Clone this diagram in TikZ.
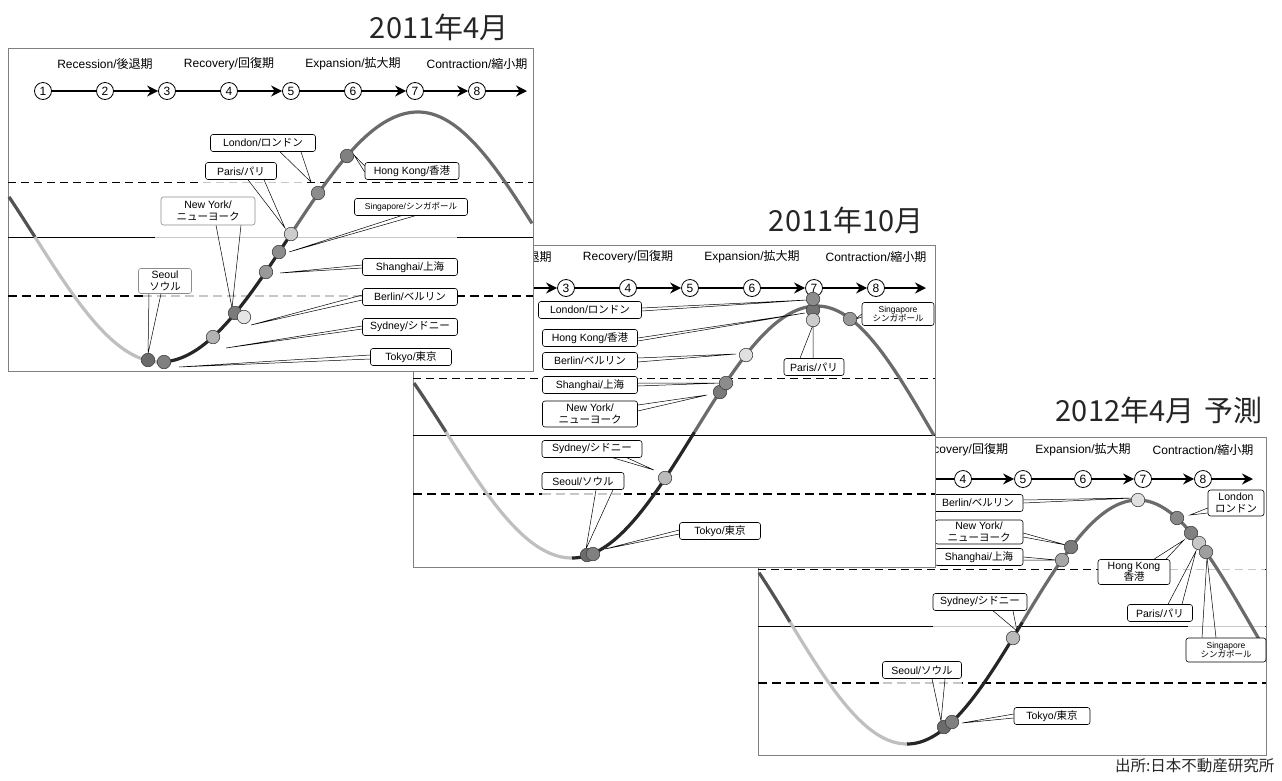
\documentclass[tikz,border=0pt]{standalone}
\usepackage{fontspec}
\setmainfont{Liberation Sans}
\newfontfamily\jpfont{Noto Sans CJK JP}
\usetikzlibrary{arrows.meta,calc}

\newcommand{\jp}[1]{{\jpfont #1}}

\tikzset{
    panel frame/.style={draw=black!50, line width=0.9pt, fill=white},
    upper level/.style={line width=0.8pt, dash pattern=on 8pt off 5pt},
    mid level/.style={line width=0.8pt},
    lower level/.style={line width=1.6pt, dash pattern=on 9pt off 5pt},
    ghost/.style={draw=black!22},
    wave/.style={line width=3.2pt, samples=50},
    wave fall/.style={draw=black!68},
    wave dip/.style={draw=black!25},
    wave climb/.style={draw=black!85},
    wave boom/.style={draw=black!58},
    phase/.style={circle, draw, line width=0.8pt, minimum size=17pt, inner sep=0pt, font=\fontsize{12}{12}\selectfont},
    flow/.style={line width=2.6pt},
    head/.style={font=\fontsize{12}{13}\selectfont},
    city/.style={draw, fill=white, rounded corners=2.5pt, line width=0.6pt, inner sep=0pt, minimum height=17pt, align=center, font=\fontsize{10.5}{11.5}\selectfont},
    city2/.style={city, minimum height=26pt},
    citysmall/.style={city, font=\fontsize{8.5}{9.5}\selectfont},
    dot/.style={circle, draw=black!75, line width=0.6pt, minimum size=13.5pt, inner sep=0pt},
    lead/.style={line width=0.5pt},
    title/.style={anchor=east, text=black!85, font=\jpfont\fontsize{29}{31}\selectfont},
    source/.style={anchor=east, text=black!85, font=\jpfont\fontsize{15.5}{17}\selectfont},
}

% frame of one screenshot
\newcommand{\panelbox}[4]{\filldraw[panel frame] (#1,#2) rectangle (#3,#4);}

% the three level lines
\newcommand{\levels}[5]{
    \draw[upper level] (#1,#3) -- (#2,#3);
    \draw[mid level] (#1,#4) -- (#2,#4);
    \draw[lower level] (#1,#5) -- (#2,#5);
}

% faded stretch of a level line
\newcommand{\fadedlevel}[4][]{
    \draw[white, line width=2.4pt] (#2,#4) -- (#3,#4);
    \draw[#1, ghost] (#2,#4) -- (#3,#4);
}

% left, right, trough, peak, fall width, late width, centre, swing
\newcommand{\cyclecurve}[8]{
    \pgfmathsetmacro{\cA}{#3-#5/2}
    \pgfmathsetmacro{\cB}{(#3+#4)/2}
    \pgfmathsetmacro{\cR}{#4-#3}
    \draw[wave, wave fall] plot[domain=#1:\cA] (\x, {#7+#8*cos((\x-#3)/#5*180)});
    \draw[wave, wave dip] plot[domain=\cA:#3] (\x, {#7+#8*cos((\x-#3)/#5*180)});
    \draw[wave, wave climb] plot[domain=#3:\cB] (\x, {#7+#8*cos((\x-#3)/\cR*180)});
    \draw[wave, wave boom] plot[domain=\cB:#4] (\x, {#7+#8*cos((\x-#3)/\cR*180)})
        -- plot[domain=#4:#2] (\x, {#7-#8*cos((\x-#4)/#6*180)});
}

% [first numbered phase] x of (3), spacing, row y, header y
\newcommand{\phaserow}[5][1]{
    \foreach \k in {1,...,8}
        \node[phase] (ph\k) at ({#2+(\k-3)*#3},#4) {\ifnum\k<#1\else\k\fi};
    \coordinate (phend) at ({#2+5*#3+50},#4);
    \draw[flow] (ph1) -- (ph2);
    \draw[flow,->] (ph2) -- (ph3);
    \draw[flow] (ph3) -- (ph4);
    \draw[flow,->] (ph4) -- (ph5);
    \draw[flow] (ph5) -- (ph6);
    \draw[flow,->] (ph6) -- (ph7);
    \draw[flow,->] (ph7) -- (ph8);
    \draw[flow,->] (ph8) -- (phend);
    \node[head] (hd1) at ({#2-#3},#5) {Recession/\jp{後退期}};
    \node[head] (hd2) at ({#2+#3},#5) {Recovery/\jp{回復期}};
    \node[head] (hd3) at ({#2+3*#3},#5) {Expansion/\jp{拡大期}};
    \node[head] (hd4) at ({#2+5*#3},#5) {Contraction/\jp{縮小期}};
}

\newcommand{\citydot}[3]{\node[dot, fill=#3] (#1) at (#2) {};}
\newcommand{\callto}[3]{\draw[lead] (#1) -- (#3) -- (#2);}

\begin{document}
\begin{tikzpicture}[x=1pt, y=-1pt, >={Stealth[length=11pt,width=11pt]}]
\path[use as bounding box, fill=white] (0,0) rectangle (1282,780);

%%% 2012年4月予測
\node[title] (title3) at (1266,410) {2012年4月\hspace{0.35em}予測};
\panelbox{758}{437}{1266}{755}
\levels{758}{1266}{569}{626}{683}
\fadedlevel[upper level]{1170}{1265}{569}
\fadedlevel[mid level]{933}{1017}{626}
\fadedlevel[mid level]{1188}{1265}{626}
\fadedlevel[lower level]{883}{962}{683}
\cyclecurve{759}{1265}{907}{1138}{234}{222}{622}{122}
\phaserow[3]{903}{60}{479}{450}

\node[city, minimum width=90pt] (ber3) at (978,503) {Berlin/\jp{ベルリン}};
\node[city2, minimum width=56pt] (lon3) at (1236,503) {London\\\jp{ロンドン}};
\node[city2, minimum width=88pt, minimum height=24pt] (ny3) at (979,532) {New York/\\\jp{ニューヨーク}};
\node[city, minimum width=88pt] (sha3) at (979,557) {Shanghai/\jp{上海}};
\node[city2, minimum width=72pt, minimum height=25pt] (hk3) at (1134,572) {Hong Kong\\\jp{香港}};
\node[city, minimum width=65pt] (par3) at (1160,613) {Paris/\jp{パリ}};
\node[citysmall, minimum width=80pt, minimum height=24pt] (sin3) at (1226,650) {Singapore\\\jp{シンガポール}};
\node[city, minimum width=94pt] (syd3) at (980,602) {Sydney/\jp{シドニー}};
\node[city, minimum width=79pt] (seo3) at (922,670) {Seoul/\jp{ソウル}};
\node[city, minimum width=76pt] (tyo3) at (1052,716) {Tokyo/\jp{東京}};

\coordinate (seo3p) at (944,727); \coordinate (tyo3p) at (952,722);
\coordinate (syd3p) at (1013,638); \coordinate (sha3p) at (1062,560);
\coordinate (ny3p) at (1071,547); \coordinate (ber3p) at (1138,500);
\coordinate (lon3p) at (1177,518); \coordinate (hk3p) at (1191,533);
\coordinate (par3p) at (1199,543); \coordinate (sin3p) at (1206,552);

\callto{[yshift=3pt]ber3.east}{ber3.east}{$(ber3p)+(-4,-2)$}
\callto{[yshift=-5pt]lon3.west}{[yshift=-10pt]lon3.west}{$(lon3p)+(13,-3)$}
\callto{[yshift=-1pt]ny3.east}{[yshift=-5pt]ny3.east}{$(ny3p)+(-5,-2)$}
\callto{sha3.east}{[yshift=-3pt]sha3.east}{$(sha3p)+(-5,0)$}
\callto{[xshift=20pt]hk3.north}{[xshift=32pt]hk3.north}{$(hk3p)+(-7,7)$}
\callto{[xshift=8pt]par3.north}{[xshift=22pt]par3.north}{$(par3p)+(-3,8)$}
\callto{[xshift=-24pt]sin3.north}{[xshift=-10pt]sin3.north}{$(sin3p)+(1,5)$}
\callto{[xshift=13pt]syd3.south}{[xshift=33pt]syd3.south}{$(syd3p)+(4,-7)$}
\callto{[xshift=10pt]seo3.south}{[xshift=23pt]seo3.south}{$(seo3p)+(-3,-6)$}
\callto{[yshift=2pt]tyo3.west}{[yshift=-2pt]tyo3.west}{$(tyo3p)+(10,1)$}

\citydot{seo3d}{seo3p}{black!58}
\citydot{tyo3d}{tyo3p}{black!50}
\citydot{syd3d}{syd3p}{black!27}
\citydot{sha3d}{sha3p}{black!35}
\citydot{ny3d}{ny3p}{black!52}
\citydot{ber3d}{ber3p}{black!12}
\citydot{lon3d}{lon3p}{black!47}
\citydot{hk3d}{hk3p}{black!50}
\citydot{par3d}{par3p}{black!22}
\citydot{sin3d}{sin3p}{black!38}

%%% 2011年10月
\node[title] (title2) at (927,220) {2011年10月};
\panelbox{413}{245}{935}{567}
\levels{413}{935}{378}{435}{494}
\fadedlevel[upper level]{542}{640}{378}
\fadedlevel[lower level]{542}{624}{494}
\cyclecurve{414}{934}{572}{817}{252}{230}{432}{126}
\phaserow[3]{566}{62}{288}{257}

\node[city, minimum width=103pt] (lon2) at (590,310) {London/\jp{ロンドン}};
\node[city, minimum width=95pt] (hk2) at (590,338) {Hong Kong/\jp{香港}};
\node[city, minimum width=95pt] (ber2) at (590,361) {Berlin/\jp{ベルリン}};
\node[city, minimum width=95pt] (sha2) at (590,385) {Shanghai/\jp{上海}};
\node[city2, minimum width=95pt] (ny2) at (590,414) {New York/\\\jp{ニューヨーク}};
\node[city, minimum width=100pt] (syd2) at (592,449) {Sydney/\jp{シドニー}};
\node[city, minimum width=82pt] (seo2) at (583,481) {Seoul/\jp{ソウル}};
\node[city, minimum width=81pt] (tyo2) at (720,531) {Tokyo/\jp{東京}};
\node[city, minimum width=60pt] (par2) at (814,367) {Paris/\jp{パリ}};
\node[citysmall, minimum width=72pt, minimum height=23pt] (sin2) at (898,314) {Singapore\\\jp{シンガポール}};

\coordinate (seo2p) at (587,555); \coordinate (tyo2p) at (593,554);
\coordinate (syd2p) at (665,478); \coordinate (ny2p) at (720,392);
\coordinate (sha2p) at (726,383); \coordinate (ber2p) at (746,355);
\coordinate (hk2p) at (813,310); \coordinate (lon2p) at (813,299);
\coordinate (par2p) at (813,320); \coordinate (sin2p) at (850,319);

\callto{[yshift=2pt]lon2.east}{[yshift=-1pt]lon2.east}{$(lon2p)+(-6,1)$}
\callto{hk2.east}{[yshift=-3pt]hk2.east}{$(hk2p)+(-8,3)$}
\callto{[yshift=3pt]ber2.east}{[yshift=-1pt]ber2.east}{$(ber2p)+(-10,-1)$}
\callto{[yshift=2pt]sha2.east}{[yshift=-1pt]sha2.east}{$(sha2p)+(-5,0)$}
\callto{[yshift=9pt]ny2.east}{[yshift=3pt]ny2.east}{$(ny2p)+(-13,3)$}
\callto{[xshift=21pt]syd2.south}{[xshift=35pt]syd2.south}{$(syd2p)+(-11,-8)$}
\callto{[xshift=13pt]seo2.south}{[xshift=30pt]seo2.south}{$(seo2p)+(-1,-6)$}
\callto{[yshift=1pt]tyo2.west}{[yshift=-3pt]tyo2.west}{$(tyo2p)+(12,-5)$}
\callto{[xshift=-14pt]par2.north}{[xshift=-1pt]par2.north}{$(par2p)+(0,5)$}
\callto{sin2.west}{[yshift=-3pt]sin2.west}{$(sin2p)+(6,0)$}

\citydot{seo2d}{seo2p}{black!58}
\citydot{tyo2d}{tyo2p}{black!50}
\citydot{syd2d}{syd2p}{black!27}
\citydot{ny2d}{ny2p}{black!52}
\citydot{sha2d}{sha2p}{black!45}
\citydot{ber2d}{ber2p}{black!12}
\citydot{hk2d}{hk2p}{black!55}
\citydot{lon2d}{lon2p}{black!45}
\citydot{par2d}{par2p}{black!20}
\citydot{sin2d}{sin2p}{black!40}

%%% 2011年4月
\node[title] (title1) at (512,27) {2011年4月};
\panelbox{8}{48}{533}{371}
\levels{8}{533}{182}{237}{296}
\fadedlevel[upper level]{203}{303}{182}
\fadedlevel[mid level]{155}{457}{237}
\fadedlevel[lower level]{143}{445}{296}
\cyclecurve{9}{532}{160}{418}{250}{245}{237}{125}
\phaserow{167}{62}{91}{64}

\node[city, minimum width=105pt] (lon1) at (263,143) {London/\jp{ロンドン}};
\node[city, minimum width=71pt] (par1) at (241,171) {Paris/\jp{パリ}};
\node[city, minimum width=94pt] (hk1) at (412,171) {Hong Kong/\jp{香港}};
\node[city2, draw=black!45, minimum width=94pt, minimum height=28pt] (ny1) at (208,211) {New York/\\\jp{ニューヨーク}};
\node[citysmall, minimum width=113pt] (sin1) at (411,207) {Singapore/\jp{シンガポール}};
\node[city, minimum width=95pt] (sha1) at (410,267) {Shanghai/\jp{上海}};
\node[city2, draw=black!45, minimum width=53pt, minimum height=25pt] (seo1) at (165,281) {Seoul\\\jp{ソウル}};
\node[city, minimum width=95pt] (ber1) at (410,297) {Berlin/\jp{ベルリン}};
\node[city, minimum width=95pt] (syd1) at (410,327) {Sydney/\jp{シドニー}};
\node[city, minimum width=81pt] (tyo1) at (411,357) {Tokyo/\jp{東京}};

\coordinate (seo1p) at (148,360); \coordinate (tyo1p) at (164,362);
\coordinate (syd1p) at (213,337); \coordinate (ny1p) at (235,313);
\coordinate (ber1p) at (244,317); \coordinate (sha1p) at (266,272);
\coordinate (sin1p) at (279,252); \coordinate (par1p) at (291,234);
\coordinate (lon1p) at (318,193); \coordinate (hk1p) at (347,156);

\callto{[xshift=17pt]lon1.south}{[xshift=38pt]lon1.south}{$(lon1p)+(-7,-11)$}
\callto{[xshift=7pt]par1.south}{[xshift=23pt]par1.south}{$(par1p)+(-6,-6)$}
\callto{[xshift=8pt]ny1.south}{[xshift=33pt]ny1.south}{$(ny1p)+(-3,-5)$}
\callto{[xshift=-16pt]seo1.south}{[xshift=-4pt]seo1.south}{$(seo1p)+(0,-6)$}
\callto{[yshift=5pt]hk1.west}{[yshift=-1pt]hk1.west}{$(hk1p)+(7,-1)$}
\callto{[xshift=-10pt]sin1.south}{[xshift=4pt]sin1.south}{$(sin1p)+(10,0)$}
\callto{[yshift=2pt]sha1.west}{[yshift=-1pt]sha1.west}{$(sha1p)+(14,1)$}
\callto{[yshift=2pt]ber1.west}{[yshift=-3pt]ber1.west}{$(ber1p)+(7,8)$}
\callto{[yshift=1pt]syd1.west}{[yshift=-2pt]syd1.west}{$(syd1p)+(13,11)$}
\callto{[yshift=2pt]tyo1.west}{[yshift=-2pt]tyo1.west}{$(tyo1p)+(15,5)$}

\citydot{seo1d}{seo1p}{black!58}
\citydot{tyo1d}{tyo1p}{black!50}
\citydot{syd1d}{syd1p}{black!30}
\citydot{ny1d}{ny1p}{black!52}
\citydot{ber1d}{ber1p}{black!10}
\citydot{sha1d}{sha1p}{black!40}
\citydot{sin1d}{sin1p}{black!45}
\citydot{par1d}{par1p}{black!20}
\citydot{lon1d}{lon1p}{black!45}
\citydot{hk1d}{hk1p}{black!50}

\node[source] (src) at (1278,766) {出所:日本不動産研究所};
\end{tikzpicture}
\end{document}
